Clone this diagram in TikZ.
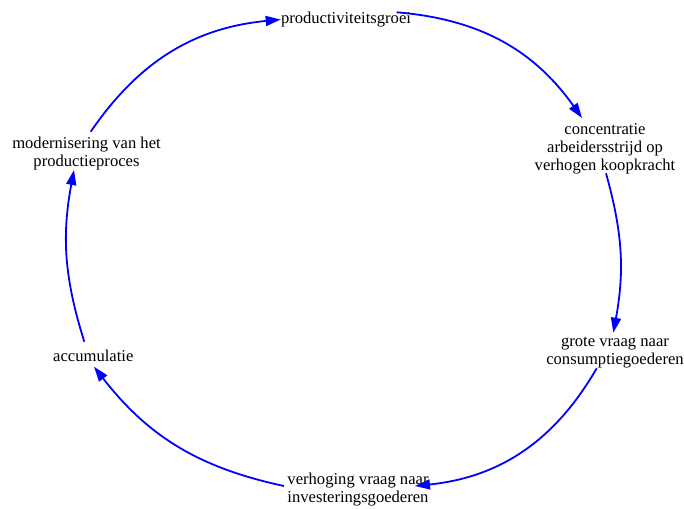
\documentclass[tikz,border=0pt]{standalone}
\usepackage{fontspec}
\setmainfont{Liberation Serif}
\usetikzlibrary{arrows.meta}
\definecolor{linkblue}{RGB}{0,0,255}
\begin{document}
\begin{tikzpicture}[x=1pt,y=-1pt,
  label/.style={anchor=base, align=center, inner sep=0pt,
    font=\fontsize{16.6}{17.7}\selectfont},
  link/.style={draw=linkblue, line width=1.8pt,
    -{Triangle[length=15pt,width=10pt]}}]
\useasboundingbox (0,0) rectangle (684,508);

% the six stages of the cycle (base = baseline of the last line)
\node[label] (prod)  at (346,23.3)  {productiviteitsgroei};
\node[label] (conc)  at (605,170)   {concentratie\\arbeidersstrijd op\\verhogen koopkracht};
\node[label] (grote) at (615,364)   {grote vraag naar\\consumptiegoederen};
\node[label] (verh)  at (358,502.3) {verhoging vraag naar\\investeringsgoederen};
\node[label] (acc)   at (93.3,361.7) {accumulatie};
\node[label] (mod)   at (86.5,166)  {modernisering van het\\productieproces};

% clockwise links
\draw[link] ([shift={(4.2,-34.3)}]mod.base) to[bend left=25] ([shift={(-65.3,-3.8)}]prod.base);
\draw[link] ([shift={(50.7,-11)}]prod.base) to[bend left=25] ([shift={(-23,-52)}]conc.base);
\draw[link] ([shift={(1,3.3)}]conc.base) to[bend left=13] ([shift={(-1.7,-31.3)}]grote.base);
\draw[link] ([shift={(-18.3,4.3)}]grote.base) to[bend left=27] ([shift={(57,-16.3)}]verh.base);
\draw[link] ([shift={(-74,-16.3)}]verh.base) to[bend left=20] ([shift={(0.7,5)}]acc.base);
\draw[link] ([shift={(-9,-20)}]acc.base) to[bend left=14] ([shift={(-12.5,4)}]mod.base);
\end{tikzpicture}
\end{document}
